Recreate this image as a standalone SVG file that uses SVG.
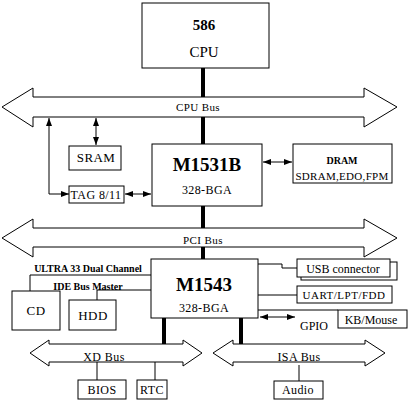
<svg xmlns="http://www.w3.org/2000/svg" width="409" height="412" viewBox="0 0 409 412" font-family="'Liberation Serif', 'DejaVu Serif', serif">
<style>
.box{fill:#fff;stroke:#000;stroke-width:1}
.bus{fill:#fff;stroke:#000;stroke-width:1}
.ln{fill:none;stroke:#000;stroke-width:1}
.thk{fill:none;stroke:#000;stroke-width:4}
text{font-family:'Liberation Serif','DejaVu Serif',serif;fill:#000;text-anchor:middle}
.t{font-size:12px;letter-spacing:0.4px}
.b{font-weight:bold}
</style>
<defs>
<marker id="ah" viewBox="0 0 8 8" refX="8" refY="4" markerWidth="8" markerHeight="8" orient="auto-start-reverse" markerUnits="userSpaceOnUse">
<path d="M0,1 L8,4 L0,7 Z" fill="#000"/>
</marker>
</defs>
<rect width="409" height="412" fill="#fff"/>
<g id="connectors">
<line class="thk" x1="203" y1="68" x2="203" y2="97"/>
<line class="thk" x1="203" y1="117" x2="203" y2="144"/>
<line class="thk" x1="203" y1="206" x2="203" y2="228"/>
<line class="thk" x1="203" y1="247" x2="203" y2="259"/>
<line class="thk" x1="164" y1="318" x2="164" y2="344"/>
<line class="thk" x1="241" y1="318" x2="241" y2="344"/>
<polyline class="ln" points="69,194 49,194 49,118" marker-start="url(#ah)" marker-end="url(#ah)"/>
<line class="ln" x1="96" y1="118" x2="96" y2="145" marker-start="url(#ah)" marker-end="url(#ah)"/>
<line class="ln" x1="125" y1="194" x2="151" y2="194" marker-start="url(#ah)" marker-end="url(#ah)"/>
<line class="ln" x1="263" y1="162" x2="292" y2="162" marker-start="url(#ah)" marker-end="url(#ah)"/>
<polyline class="ln" points="151,275 30,275 30,291"/>
<polyline class="ln" points="151,290 97,290 97,300"/>
<polyline class="ln" points="258,264 282,264 282,268 297,268"/>
<line class="ln" x1="258" y1="295" x2="297" y2="295"/>
<line class="ln" x1="258" y1="310" x2="338" y2="310"/>
<line class="ln" x1="260" y1="317" x2="295" y2="317" marker-start="url(#ah)" marker-end="url(#ah)"/>
<line class="ln" x1="97" y1="362" x2="97" y2="380"/>
<line class="ln" x1="155" y1="362" x2="155" y2="380"/>
<line class="ln" x1="299" y1="365" x2="299" y2="381"/>
</g>
<g id="cpu-bus">
<path class="bus" d="M2,107 L33,88 L33,97 L364,97 L364,88 L397,107 L364,127 L364,117 L33,117 L33,127 Z"/>
<text class="t" x="198" y="111" style="font-size:11px">CPU Bus</text>
</g>
<g id="pci-bus">
<path class="bus" d="M2,238 L33,219 L33,228 L364,228 L364,219 L397,238 L364,257 L364,247 L33,247 L33,257 Z"/>
<text class="t" x="203" y="244" style="font-size:11px">PCI Bus</text>
</g>
<g id="xd-bus">
<path class="bus" d="M30,353 L49,340 L49,344 L183,344 L183,340 L202,353 L183,366 L183,362 L49,362 L49,366 Z"/>
<text class="t" x="104" y="361" style="font-size:12px">XD Bus</text>
</g>
<g id="isa-bus">
<path class="bus" d="M213,353 L233,340 L233,344 L365,344 L365,340 L385,353 L365,366 L365,362 L233,362 L233,366 Z"/>
<text class="t" x="299" y="361" style="font-size:12px">ISA Bus</text>
</g>
<g id="cpu">
<rect class="box" x="142" y="3" width="127" height="65"/>
<text class="b" x="204" y="30" style="font-size:15px">586</text>
<text x="204" y="57" style="font-size:15px">CPU</text>
</g>
<g id="sram">
<rect class="box" x="69" y="146" width="52" height="24"/>
<text class="t" x="96" y="162" style="font-size:13px">SRAM</text>
</g>
<g id="tag">
<rect class="box" x="69" y="186" width="55" height="17"/>
<text class="t" x="96" y="199" style="font-size:12px">TAG 8/11</text>
</g>
<g id="m1531b">
<rect class="box" x="152" y="144" width="110" height="62"/>
<text class="b" x="207" y="171" style="font-size:19px">M1531B</text>
<text class="t" x="207" y="194" style="font-size:12px">328-BGA</text>
</g>
<g id="dram">
<rect class="box" x="293" y="144" width="99" height="39"/>
<text class="b" x="342" y="164" style="font-size:10px">DRAM</text>
<text x="342" y="180" style="font-size:11px;letter-spacing:0.3px">SDRAM,EDO,FPM</text>
</g>
<g id="m1543">
<rect class="box" x="151" y="259" width="107" height="59"/>
<text class="b" x="204" y="291" style="font-size:19px">M1543</text>
<text class="t" x="204" y="312" style="font-size:12px">328-BGA</text>
</g>
<g id="ide-labels">
<text class="b" x="88" y="272" style="font-size:10px">ULTRA 33 Dual Channel</text>
<text class="b" x="88" y="290" style="font-size:10px">IDE Bus Master</text>
</g>
<g id="cd">
<rect class="box" x="12" y="291" width="48" height="39"/>
<text class="t" x="36" y="315" style="font-size:13px">CD</text>
</g>
<g id="hdd">
<rect class="box" x="69" y="300" width="47" height="30"/>
<text class="t" x="93" y="320" style="font-size:13px">HDD</text>
</g>
<g id="usb">
<rect class="box" x="301" y="262" width="96" height="18"/>
<rect class="box" x="297" y="259" width="93" height="18"/>
<text x="343" y="273" style="font-size:12px">USB connector</text>
</g>
<g id="uart">
<rect class="box" x="297" y="286" width="95" height="17"/>
<text x="344" y="299" style="font-size:11px;letter-spacing:0.5px">UART/LPT/FDD</text>
</g>
<g id="gpio">
<text x="314" y="330" style="font-size:12px">GPIO</text>
</g>
<g id="kbmouse">
<rect class="box" x="338" y="310" width="69" height="18"/>
<text x="371" y="324" style="font-size:12px">KB/Mouse</text>
</g>
<g id="bios">
<rect class="box" x="78" y="380" width="48" height="19"/>
<text class="t" x="102" y="394" style="font-size:12px">BIOS</text>
</g>
<g id="rtc">
<rect class="box" x="137" y="380" width="30" height="19"/>
<text class="t" x="152" y="394" style="font-size:12px">RTC</text>
</g>
<g id="audio">
<rect class="box" x="274" y="381" width="49" height="18"/>
<text class="t" x="298" y="394" style="font-size:12px">Audio</text>
</g>
</svg>
